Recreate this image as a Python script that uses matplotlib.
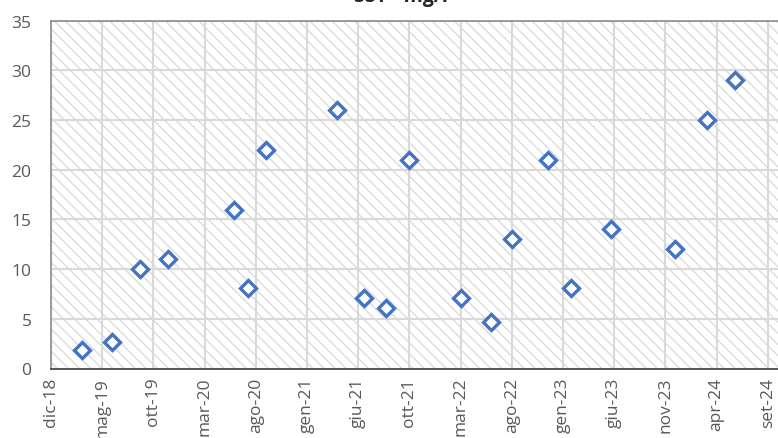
import matplotlib
matplotlib.use("Agg")
import matplotlib.pyplot as plt
import matplotlib.dates as mdates
from matplotlib.patches import Rectangle
import numpy as np
import datetime as dt

dates = ["2019-03-15", "2019-06-11", "2019-09-02", "2019-11-22", "2020-06-03",
         "2020-07-13", "2020-09-05", "2021-04-01", "2021-06-20", "2021-08-22",
         "2021-10-28", "2022-03-29", "2022-06-25", "2022-08-27", "2022-12-11",
         "2023-02-15", "2023-06-13", "2023-12-17", "2024-03-19", "2024-06-10"]
values = [1.9, 2.7, 10, 11, 16, 8.1, 22, 26, 7.1, 6.1,
          21, 7.1, 4.7, 13, 21, 8.1, 14, 12, 25, 29]
month_names = ["gen", "feb", "mar", "apr", "mag", "giu",
               "lug", "ago", "set", "ott", "nov", "dic"]
title = "SST - mg/l"

axis_start = dt.date(2018, 12, 15)
tick_step_days = 150
n_ticks = 15

plt.rcParams['font.family'] = ['Open Sans', 'DejaVu Sans']
fig = plt.figure(figsize=(7.78, 4.39), dpi=100)
left = 51 / 778
bottom = 1 - 369.5 / 439
top = 1 - 21.7 / 439
ax = fig.add_axes([left, bottom, 1 - left, top - bottom])

x = [mdates.date2num(dt.date.fromisoformat(d)) for d in dates]
x0 = mdates.date2num(axis_start)
ax.set_xlim(x0, x0 + 727 / 51.2 * tick_step_days)
ax.set_ylim(0, 35)

plt.rcParams['hatch.linewidth'] = 1.0
plt.rcParams['hatch.color'] = '#dcdcdc'
bg = Rectangle((0, 0), 1, 1, transform=ax.transAxes, facecolor='white',
               edgecolor='#dcdcdc', hatch='\\\\\\', linewidth=0, zorder=0)
ax.add_patch(bg)

ticks = [x0 + i * tick_step_days for i in range(n_ticks)]
labels = []
for t in ticks:
    d = mdates.num2date(t)
    labels.append(f"{month_names[d.month - 1]}-{d.year % 100:02d}")
ax.set_xticks(ticks)
ax.set_xticklabels(labels, rotation=90)
ax.set_yticks(np.arange(0, 36, 5))

ax.grid(True, color='#d9d9d9', linewidth=1.5, zorder=1)
ax.set_axisbelow(True)

ax.plot(x, values, linestyle='none', marker='D', markersize=8,
        markerfacecolor='white', markeredgecolor='#4472C4',
        markeredgewidth=2.4, zorder=3, clip_on=False)

for s in ['top', 'left']:
    ax.spines[s].set_color('#8c8c8c')
    ax.spines[s].set_linewidth(1.2)
ax.spines['right'].set_visible(False)
ax.spines['bottom'].set_color('#404040')
ax.spines['bottom'].set_linewidth(1.2)

ax.tick_params(axis='both', length=0, labelsize=12.5, labelcolor='#595959')
ax.tick_params(axis='y', pad=14)
ax.tick_params(axis='x', pad=6)

fig.text(0.515, 0.996, title, ha='center', va='baseline', fontsize=14,
         fontweight='bold', color='#262626')

fig.savefig("out.png", dpi=100)
